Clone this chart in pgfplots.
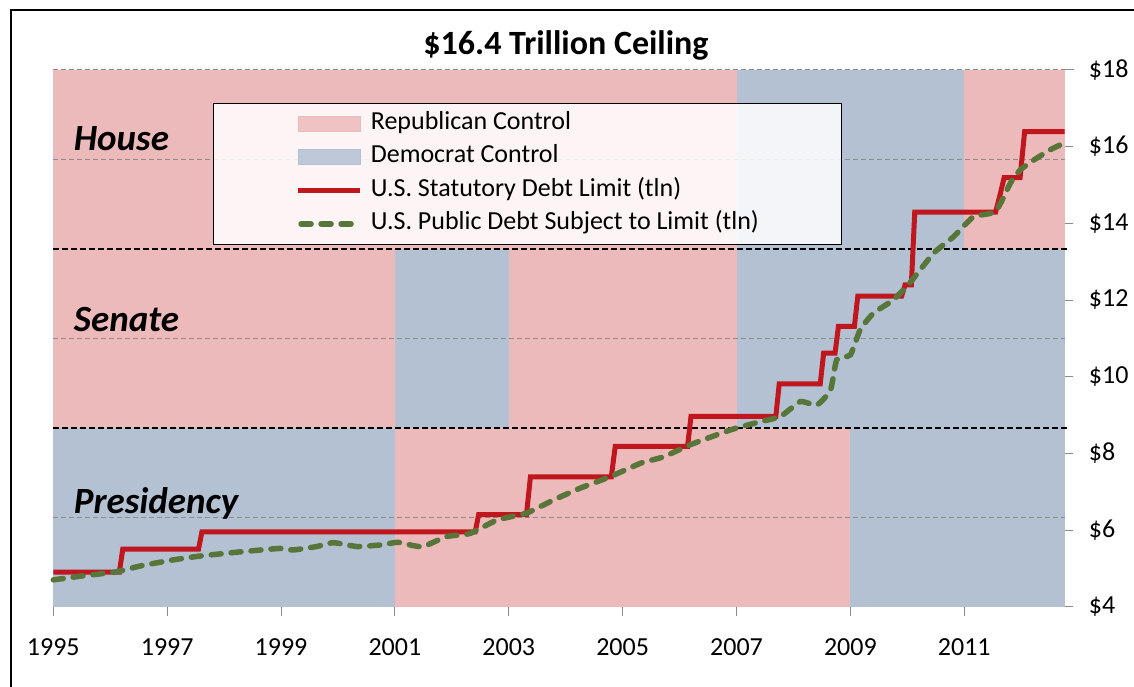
\documentclass[border=0pt]{standalone}
\usepackage{fontspec}
\setmainfont{Carlito}
\usepackage{pgfplots}
\pgfplotsset{compat=1.18}
\definecolor{repc}{RGB}{237,186,188}
\definecolor{demc}{RGB}{180,193,211}
\definecolor{limc}{RGB}{192,22,30}
\definecolor{debtc}{RGB}{88,118,58}
\definecolor{gridc}{RGB}{140,140,140}
\newcommand\band[5]{\addplot[fill=#1, draw=none, forget plot] coordinates {(#2,#4) (#3,#4) (#3,#5) (#2,#5)};}
\newcommand\gline[1]{\addplot[gridc, line width=1bp, dash pattern=on 5bp off 3bp, forget plot] coordinates {(1995,#1) (2012.76,#1)};}
\newcommand\sepline[1]{\addplot[black, line width=2bp, dash pattern=on 6bp off 3bp, forget plot] coordinates {(1995,#1) (2012.8,#1)};}
\begin{document}
\begin{tikzpicture}[x=1bp,y=1bp]
\path[use as bounding box] (0bp,0bp) rectangle (1134bp,687bp);
\draw[line width=2.5bp] (11bp,-10bp) -- (11bp,677bp) -- (1150bp,677bp);
\node[font=\bfseries\fontsize{34bp}{38bp}\selectfont] at (566bp,642bp) {\$16.4 Trillion Ceiling};
\begin{axis}[
  at={(53.3bp,80.3bp)}, anchor=south west,
  scale only axis, width=1011.2bp, height=536.7bp,
  xmin=1995, xmax=2012.76, ymin=4, ymax=18,
  clip=false,
  axis x line*=bottom, axis y line*=right,
  axis line style={gridc, line width=1bp},
  tick style={gridc, line width=1bp},
  tick align=outside, major tick length=9bp,
  xtick={1995,1997,...,2011}, ytick={4,6,...,18},
  /pgf/number format/assume math mode=true,
  xticklabel style={/pgf/number format/1000 sep={}, yshift=-19bp},
  yticklabel={\$\pgfmathprintnumber{\tick}},
  yticklabel style={xshift=12bp},
  tick label style={font=\fontsize{26bp}{30bp}\selectfont, text=black},
  legend cell align=left,
  legend style={at={(0.158,0.9385)}, anchor=north west, draw=black, line width=1bp,
    fill=white, fill opacity=0.85, text opacity=1, draw opacity=1,
    inner xsep=82bp, inner ysep=8bp, row sep=8.3bp,
    font=\fontsize{26bp}{30bp}\selectfont,
    nodes={inner sep=0pt, text height=18bp, text depth=7bp},
    /tikz/every odd column/.append style={column sep=8bp}},
]
% House band
\band{repc}{1995}{2007}{13.333}{18}
\band{demc}{2007}{2011}{13.333}{18}
\band{repc}{2011}{2012.76}{13.333}{18}
% Senate band
\band{repc}{1995}{2001}{8.667}{13.333}
\band{demc}{2001}{2003}{8.667}{13.333}
\band{repc}{2003}{2007}{8.667}{13.333}
\band{demc}{2007}{2012.76}{8.667}{13.333}
% Presidency band
\band{demc}{1995}{2001}{4}{8.667}
\band{repc}{2001}{2009}{4}{8.667}
\band{demc}{2009}{2012.76}{4}{8.667}
% grid lines
\addplot[gridc, line width=1bp, dash pattern=on 5bp off 3bp, forget plot] coordinates {(1995,18) (2012.94,18)};
\gline{15.667}
\gline{11}
\gline{6.333}
\sepline{13.333}
\sepline{8.667}

\addlegendimage{legend image code/.code={\fill[repc] (0bp,-7.5bp) rectangle (62bp,7.5bp);}}
\addlegendentry{Republican Control}
\addlegendimage{legend image code/.code={\fill[demc] (0bp,-7.5bp) rectangle (62bp,7.5bp);}}
\addlegendentry{Democrat Control}

\addplot[limc, line width=5bp, line join=miter,
  legend image code/.code={\draw[limc, line width=5bp] (0bp,0bp) -- (62bp,0bp);}]
coordinates {
(1995.0,4.9) (1996.16,4.9) (1996.22,5.5) (1997.55,5.5) (1997.61,5.95)
(2002.41,5.95) (2002.47,6.4) (2003.31,6.4) (2003.38,7.384) (2004.80,7.384)
(2004.87,8.184) (2006.14,8.184) (2006.20,8.965) (2007.69,8.965) (2007.75,9.815)
(2008.47,9.815) (2008.53,10.615) (2008.73,10.615) (2008.79,11.315) (2009.07,11.315)
(2009.13,12.104) (2009.90,12.104) (2009.96,12.394) (2010.07,12.394) (2010.13,14.294)
(2011.55,14.294) (2011.62,14.694) (2011.70,15.194) (2011.98,15.194) (2012.06,16.394)
(2012.76,16.394)
};
\addlegendentry{U.S. Statutory Debt Limit (tln)}

\addplot[debtc, line width=5.5bp, dash pattern=on 10bp off 10bp, line cap=round, smooth, tension=0.3,
  legend image code/.code={\draw[debtc, line width=5.5bp, dash pattern=on 10bp off 10bp, line cap=round] (3bp,0bp) -- (62bp,0bp);}]
coordinates {
(1995.0,4.70) (1995.5,4.80) (1996.11,4.91) (1996.52,5.06) (1997.10,5.22)
(1997.57,5.32) (1998.28,5.43) (1998.98,5.52) (1999.21,5.48) (1999.63,5.57)
(1999.92,5.67) (2000.33,5.57) (2000.74,5.61) (2001.05,5.68) (2001.3,5.60)
(2001.5,5.57) (2001.91,5.83) (2002.32,5.91) (2002.79,6.26) (2003.31,6.44)
(2003.78,6.78) (2004.25,7.09) (2004.78,7.39) (2005.31,7.74) (2005.72,7.91)
(2006.18,8.22) (2006.89,8.61) (2007.4,8.82) (2007.77,8.96) (2008.12,9.35)
(2008.41,9.26) (2008.65,9.65) (2008.76,10.44) (2009.0,10.57) (2009.17,11.22)
(2009.40,11.65) (2009.75,12.0) (2010.04,12.44) (2010.46,13.22) (2010.81,13.65)
(2011.16,14.17) (2011.55,14.31) (2011.81,15.05) (2011.98,15.39) (2012.22,15.65)
(2012.51,15.92) (2012.75,16.09)
};
\addlegendentry{U.S. Public Debt Subject to Limit (tln)}

\node[anchor=base west, font=\bfseries\itshape\fontsize{37bp}{40bp}\selectfont] at (axis cs:1995.30,15.91) {House};
\node[anchor=base west, font=\bfseries\itshape\fontsize{37bp}{40bp}\selectfont] at (axis cs:1995.30,11.18) {Senate};
\node[anchor=base west, font=\bfseries\itshape\fontsize{37bp}{40bp}\selectfont] at (axis cs:1995.30,6.44) {Presidency};
\end{axis}
\end{tikzpicture}
\end{document}
